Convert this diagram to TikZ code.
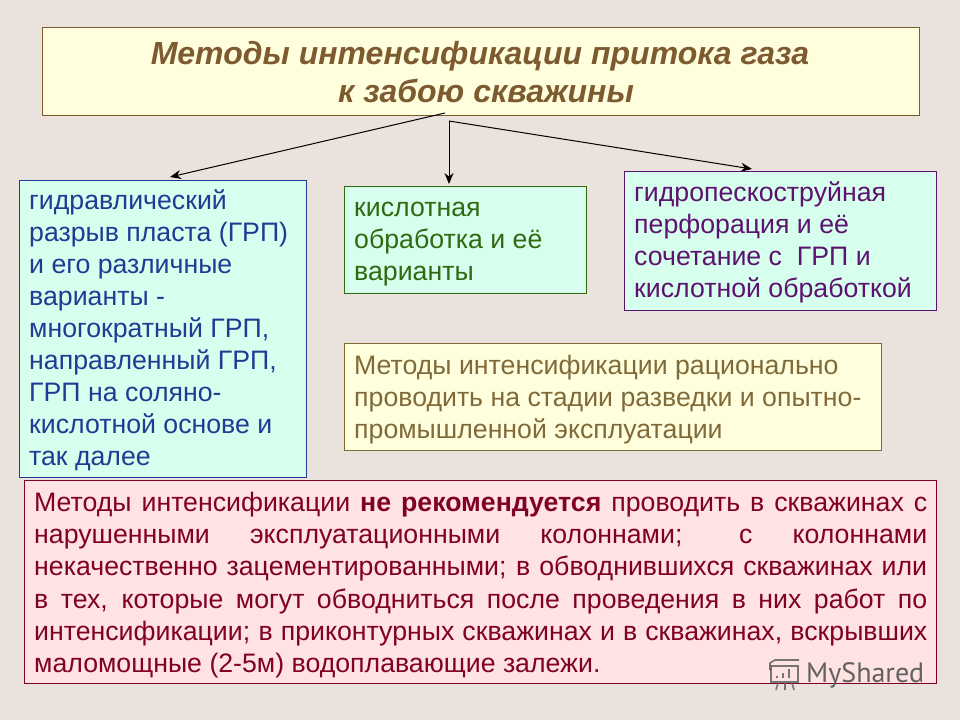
\documentclass[tikz,border=0pt]{standalone}
\usepackage{fontspec}
\setmainfont{Liberation Sans}
\newfontfamily\wmfont{PT Sans}
\usetikzlibrary{arrows.meta}
\tikzset{
 txt/.style={anchor=north west,inner sep=0pt,align=left,font=\fontsize{26.7}{32}\selectfont},
 arr/.style={draw=black,line width=1pt,-{Stealth[length=11pt,width=9pt]}},
}
\definecolor{bgc}{HTML}{EAE2DC}
\definecolor{ylw}{HTML}{FFFFDD}
\definecolor{cyn}{HTML}{D6FFEE}
\definecolor{pnk}{HTML}{FFE2E2}
\definecolor{brn}{HTML}{7D5A30}
\definecolor{blu}{HTML}{233A94}
\definecolor{grn}{HTML}{2F6A10}
\definecolor{vio}{HTML}{5E1270}
\definecolor{ylt}{HTML}{806A3A}
\definecolor{red2}{HTML}{800028}
\begin{document}
\begin{tikzpicture}[x=1pt,y=-1pt]
\useasboundingbox (0,0) rectangle (960,720);
\fill[bgc] (0,0) rectangle (960,720);
% boxes
\draw[brn,fill=ylw,line width=1pt] (42,27) rectangle (919,115);
\draw[blu,fill=cyn,line width=1pt] (19,180) rectangle (306,477);
\draw[grn,fill=cyn,line width=1pt] (344,186) rectangle (586,293);
\draw[vio,fill=cyn,line width=1pt] (624,171) rectangle (936,310);
\draw[ylt,fill=ylw,line width=1pt] (344,343) rectangle (881,450);
\draw[red2,fill=pnk,line width=1pt] (24,480) rectangle (936,683);
% texts
\node[anchor=center,inner sep=0pt,align=center,text=brn,font=\fontsize{32}{37.5}\selectfont\bfseries\itshape] (title) at (480,72) {Методы интенсификации притока газа\\\hspace*{12pt}к забою скважины};
\node[txt,text=blu] (a) at (29,189) {гидравлический\\разрыв пласта (ГРП)\\и его различные\\варианты -\\многократный ГРП,\\направленный ГРП,\\ГРП на соляно-\\кислотной основе и\\так далее};
\node[txt,text=grn] (b) at (354,202) {кислотная\\обработка и её\\варианты};
\node[txt,text=vio] (c) at (634,181) {гидропескоструйная\\перфорация и её\\сочетание с\ \ ГРП и\\кислотной обработкой};
\node[txt,text=ylt] (d) at (354,355) {Методы интенсификации рационально\\проводить на стадии разведки и опытно-\\промышленной эксплуатации};
\node[anchor=north west,inner sep=0pt,text width=893pt,align=justify,text=red2,font=\fontsize{26.7}{32.2}\selectfont] (e) at (34,492) {\hyphenchar\font=-1 \tolerance=10000 \hbadness=10000 Методы интенсификации \textbf{не рекомендуется} проводить в скважинах с\linebreak нарушенными эксплуатационными колоннами; с колоннами\linebreak некачественно зацементированными; в обводнившихся скважинах или\linebreak в тех, которые могут обводниться после проведения в них работ по\linebreak интенсификации; в приконтурных скважинах и в скважинах, вскрывших\linebreak маломощные (2-5м) водоплавающие залежи.};
% connectors
\coordinate (s1) at (445,113);
\coordinate (s2) at (449,121);
\coordinate (t1) at (170,177);
\coordinate (t2) at (449,184);
\coordinate (t3) at (752,169);
\draw[arr] (s1) -- (t1);
\draw[arr] (s2) -- (t2);
\draw[arr] (s2) -- (t3);
% watermark
\node[anchor=west,inner sep=0pt,text=black!62,font=\wmfont\fontsize{28}{28}\selectfont] (wm) at (806,675) {MyShared};
\begin{scope}[draw=black!62,line width=1.6pt,opacity=0.85]
\draw (770,670) -- (770,663) -- (775,660) -- (799,660);
\draw (771,666) rectangle (798,682);
\draw[line width=1.8pt] (777,678) -- (777,676) (783,678) -- (783,673) (789,678) -- (789,669);
\draw (778,683) -- (776,690) (785,683) -- (785,690) (792,683) -- (794,690);
\end{scope}
\end{tikzpicture}
\end{document}
